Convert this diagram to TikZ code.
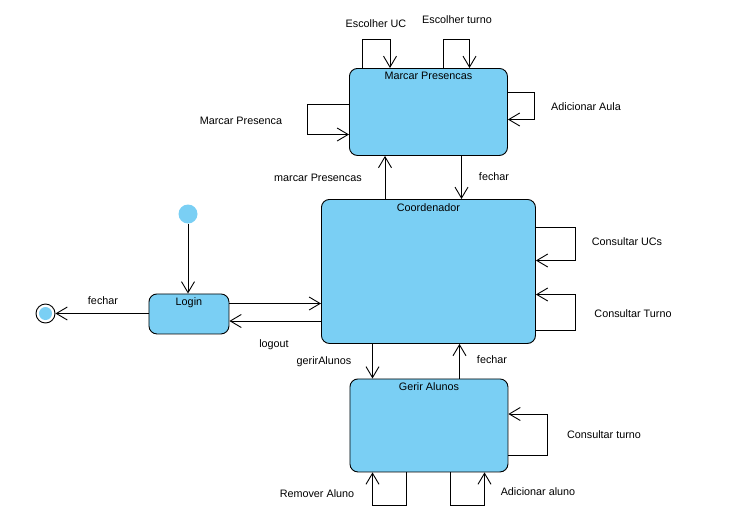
\documentclass[tikz,border=0pt]{standalone}
\usepackage{fontspec}
\setmainfont{Liberation Sans}
\usetikzlibrary{arrows.meta}
\definecolor{stateblue}{RGB}{122,207,244}
\tikzset{
  every node/.style={font=\fontsize{10.8}{13}\selectfont},
  statebox/.style={draw=black, line width=0.9pt, fill=stateblue, rounded corners=8pt,
    anchor=north west, inner sep=0pt},
  arr/.style={line width=0.9pt, -{Straight Barb[length=11pt,width=13pt,line width=0.9pt]}},
  lbl/.style={inner sep=1pt},
  title/.style={anchor=north, yshift=-1pt}
}
\begin{document}
\begin{tikzpicture}[x=1pt,y=-1pt]
\useasboundingbox (0,0) rectangle (741,517);

% states
\node[statebox, minimum width=158pt, minimum height=87pt,
  label={[title]north:Marcar Presencas}] (mp) at (349,68) {};
\node[statebox, minimum width=214pt, minimum height=144pt,
  label={[title]north:Coordenador}] (co) at (321,199) {};
\node[statebox, minimum width=80pt, minimum height=40pt,
  label={[title]north:Login}] (lg) at (148.5,293.5) {};
\node[statebox, minimum width=158pt, minimum height=93pt,
  label={[title]north:Gerir Alunos}] (ga) at (349.5,378.5) {};

% initial and final pseudo-states
\node[circle, fill=stateblue, minimum size=19pt, inner sep=0pt] (ini) at (188,214) {};
\node[circle, draw=black, line width=0.9pt, fill=white, minimum size=19pt, inner sep=0pt] (fin) at (45.5,313.5) {};
\node[circle, fill=stateblue, minimum size=13pt, inner sep=0pt] (finc) at (fin) {};

% Marcar Presencas self transitions
\draw[arr] (362.5,0 |- mp.north) |- (390,39.5) -- (390,0 |- mp.north);
\draw[arr] (443,0 |- mp.north) |- (469.5,39.5) -- (469.5,0 |- mp.north);
\draw[arr] (mp.east |- 0,92.5) -| (534.5,119.5) -- (mp.east |- 0,119.5);
\draw[arr] (mp.west |- 0,104.5) -| (307.5,134.5) -- (mp.west |- 0,134.5);

% Marcar Presencas <-> Coordenador
\draw[arr] (385,0 |- co.north) -- (385,0 |- mp.south);
\draw[arr] (461.5,0 |- mp.south) -- (461.5,0 |- co.north);

% Coordenador self transitions
\draw[arr] (co.east |- 0,227.5) -| (575.5,260.5) -- (co.east |- 0,260.5);
\draw[arr] (co.east |- 0,330) -| (575.5,294.5) -- (co.east |- 0,294.5);

% Login transitions
\draw[arr] (ini) -- (ini |- lg.north);
\draw[arr] (lg.west |- fin) -- (fin.east);
\draw[arr] (lg.east |- 0,303.5) -- (co.west |- 0,303.5);
\draw[arr] (co.west |- 0,321) -- (lg.east |- 0,321);

% Coordenador <-> Gerir Alunos
\draw[arr] (372.5,0 |- co.south) -- (372.5,0 |- ga.north);
\draw[arr] (459.5,0 |- ga.north) -- (459.5,0 |- co.south);

% Gerir Alunos self transitions
\draw[arr] (ga.east |- 0,455.5) -| (547.5,414) -- (ga.east |- 0,414);
\draw[arr] (406.5,0 |- ga.south) |- (372.5,505.5) -- (372.5,0 |- ga.south);
\draw[arr] (450.5,0 |- ga.south) |- (484.5,505.5) -- (484.5,0 |- ga.south);

% transition labels
\node[lbl] (l1) at (376,24) {Escolher UC};
\node[lbl] (l2) at (457,20) {Escolher turno};
\node[lbl] (l3) at (586,107) {Adicionar Aula};
\node[lbl] (l4) at (241,121) {Marcar Presenca};
\node[lbl] (l5) at (318,178) {marcar Presencas};
\node[lbl] (l6) at (494,177) {fechar};
\node[lbl] (l7) at (627,242) {Consultar UCs};
\node[lbl] (l8) at (633,314) {Consultar Turno};
\node[lbl] (l9) at (103,301) {fechar};
\node[lbl] (l10) at (274,345) {logout};
\node[lbl] (l11) at (324,362) {gerirAlunos};
\node[lbl] (l12) at (492,360) {fechar};
\node[lbl] (l13) at (604,435) {Consultar turno};
\node[lbl] (l14) at (317,494) {Remover Aluno};
\node[lbl] (l15) at (538,492) {Adicionar aluno};
\end{tikzpicture}
\end{document}
